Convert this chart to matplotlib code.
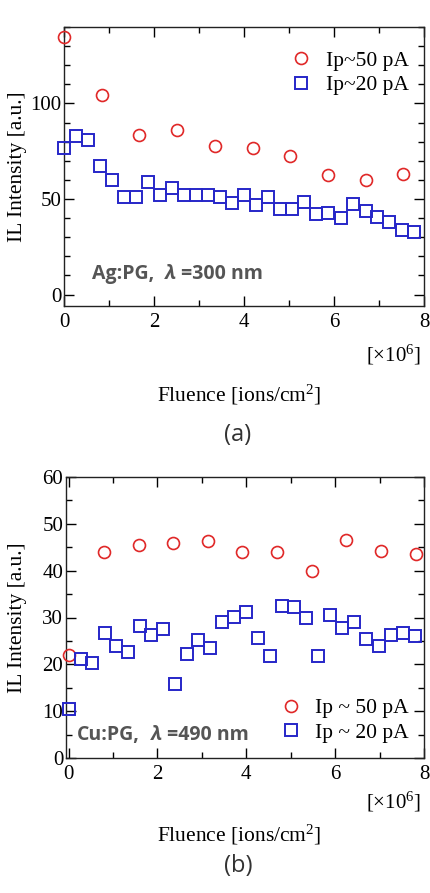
import matplotlib
matplotlib.use("Agg")
import matplotlib.pyplot as plt
from matplotlib.ticker import MultipleLocator

# ---------------- data ----------------
# Panel (a): Ag:PG, lambda = 300 nm
a_x50 = [0.0, 0.84, 1.67, 2.51, 3.36, 4.19, 5.02, 5.86, 6.70, 7.53]
a_y50 = [135.0, 104.5, 83.7, 86.3, 77.9, 76.7, 72.5, 62.6, 59.8, 63.1]
a_x20 = [0.0, 0.27, 0.53, 0.80, 1.07, 1.33, 1.60, 1.86, 2.13, 2.39,
         2.67, 2.93, 3.20, 3.46, 3.73, 3.99, 4.26, 4.53, 4.80, 5.07,
         5.33, 5.60, 5.87, 6.15, 6.43, 6.70, 6.96, 7.23, 7.51, 7.78]
a_y20 = [76.9, 82.8, 81.0, 67.1, 59.8, 51.1, 51.1, 59.0, 52.3, 56.0,
         52.0, 52.0, 52.0, 50.8, 48.0, 52.0, 47.1, 50.8, 45.0, 45.0,
         48.2, 41.9, 42.8, 40.0, 47.3, 43.8, 40.7, 38.1, 33.7, 32.9]

# Panel (b): Cu:PG, lambda = 490 nm
b_x50 = [0.0, 0.80, 1.58, 2.35, 3.13, 3.91, 4.70, 5.47, 6.25, 7.03, 7.81]
b_y50 = [22.0, 43.9, 45.4, 46.0, 46.3, 43.9, 43.9, 39.9, 46.6, 44.2, 43.5]
b_x20 = [0.0, 0.28, 0.53, 0.81, 1.07, 1.33, 1.60, 1.86, 2.13, 2.39,
         2.66, 2.92, 3.19, 3.46, 3.73, 3.99, 4.27, 4.53, 4.81, 5.07,
         5.35, 5.61, 5.89, 6.15, 6.43, 6.70, 6.98, 7.25, 7.52, 7.80]
b_y20 = [10.5, 21.1, 20.2, 26.6, 24.0, 22.7, 28.1, 26.3, 27.6, 15.7,
         22.3, 25.1, 23.5, 29.0, 30.2, 31.1, 25.6, 21.7, 32.4, 32.2,
         29.9, 21.7, 30.5, 27.7, 29.0, 25.4, 24.0, 26.3, 26.6, 26.1]

a_labels = ["Ip~50 pA", "Ip~20 pA"]
b_labels = ["Ip ~ 50 pA", "Ip ~ 20 pA"]
a_xticks = [0, 2, 4, 6, 8]
a_yticks = [0, 50, 100]
b_xticks = [0, 2, 4, 6, 8]
b_yticks = [0, 10, 20, 30, 40, 50, 60]

# ---------------- style ----------------
RED = "#e02828"
BLUE = "#2626c8"
SERIF = "Liberation Serif"
SANS = ["Open Sans", "DejaVu Sans"]
W, H = 430, 893

plt.rcParams["mathtext.fontset"] = "custom"
plt.rcParams["mathtext.rm"] = "Liberation Serif"
plt.rcParams["mathtext.it"] = "Liberation Serif:italic"
plt.rcParams["mathtext.bf"] = "Liberation Serif:bold"

fig = plt.figure(figsize=(W / 100, H / 100), dpi=100)


def px_axes(left, top, right, bottom):
    return fig.add_axes([left / W, 1 - bottom / H, (right - left) / W, (bottom - top) / H])


def style_axes(ax, xticks, yticks, yminor):
    ax.set_xticks(xticks)
    ax.set_yticks(yticks)
    ax.xaxis.set_minor_locator(MultipleLocator(1))
    ax.yaxis.set_minor_locator(MultipleLocator(yminor))
    ax.tick_params(which="both", direction="in", top=True, right=True, width=1.0)
    ax.tick_params(which="major", length=7)
    ax.tick_params(which="minor", length=4)
    ax.tick_params(axis="x", pad=5)
    ax.tick_params(axis="y", pad=2)
    for lab in ax.get_xticklabels() + ax.get_yticklabels():
        lab.set_fontfamily(SERIF)
        lab.set_fontsize(15)
    for s in ax.spines.values():
        s.set_linewidth(1.0)
        s.set_color("#222222")
    ax.set_ylabel("IL Intensity [a.u.]", fontfamily=SERIF, fontsize=15.5)


def annotate(ax, x, y, head, tail):
    kw = dict(transform=ax.transAxes, fontfamily=SANS, fontweight="bold",
              fontsize=14, color="#555555", va="baseline", ha="left")
    t1 = ax.text(x, y, head, **kw)
    fig.canvas.draw()
    inv = ax.transAxes.inverted()
    bb = t1.get_window_extent()
    x2 = inv.transform((bb.x1 + 11, 0))[0]
    t2 = ax.text(x2, y, "\u03bb", fontstyle="italic", **kw)
    bb2 = t2.get_window_extent()
    x3 = inv.transform((bb2.x1 + 5, 0))[0]
    ax.text(x3, y, tail, **kw)


mk = dict(linestyle="none", markerfacecolor="none", clip_on=False, zorder=3)
leg_kw = dict(frameon=False, prop={"family": SERIF, "size": 15.5}, handletextpad=0.55,
              labelspacing=0.22, handlelength=1.2, borderaxespad=0.3)

# ---------------- panel (a) ----------------
axa = px_axes(64, 27, 424, 306)
axa.plot(a_x50, a_y50, marker="o", markersize=8.6, markeredgecolor=RED,
         markeredgewidth=1.2, label=a_labels[0], **mk)
axa.plot(a_x20, a_y20, marker="s", markersize=8.4, markeredgecolor=BLUE,
         markeredgewidth=1.4, label=a_labels[1], **mk)
axa.set_xlim(0, 8)
axa.set_ylim(-6, 140)
style_axes(axa, a_xticks, a_yticks, 10)
axa.yaxis.set_label_coords(-0.103, 0.5)
axa.legend(loc="upper right", bbox_to_anchor=(1.0, 0.97), **leg_kw)
annotate(axa, 0.078, 0.098, "Ag:PG,", "=300 nm")

fig.text(421 / W, 1 - 355 / H, r"[$\times$10$^{6}$]", fontfamily=SERIF, fontsize=15,
         ha="right", va="center")
fig.text(239 / W, 1 - 395 / H, "Fluence [ions/cm$^{2}$]", fontfamily=SERIF, fontsize=15.5,
         ha="center", va="center")
fig.text(238 / W, 1 - 435 / H, "(a)", fontfamily=SANS, fontsize=17,
         ha="center", va="center", color="#333333")

# ---------------- panel (b) ----------------
axb = px_axes(66, 477, 424, 758)
axb.plot(b_x50, b_y50, marker="o", markersize=8.6, markeredgecolor=RED,
         markeredgewidth=1.2, label=b_labels[0], **mk)
axb.plot(b_x20, b_y20, marker="s", markersize=8.4, markeredgecolor=BLUE,
         markeredgewidth=1.4, label=b_labels[1], **mk)
axb.set_xlim(-0.06, 8)
axb.set_ylim(0, 60)
style_axes(axb, b_xticks, b_yticks, 5)
axb.yaxis.set_label_coords(-0.109, 0.5)
axb.legend(loc="lower right", bbox_to_anchor=(1.0, 0.0), **leg_kw)
annotate(axb, 0.03, 0.065, "Cu:PG,", "=490 nm")

fig.text(421 / W, 1 - 802 / H, r"[$\times$10$^{6}$]", fontfamily=SERIF, fontsize=15,
         ha="right", va="center")
fig.text(239 / W, 1 - 835 / H, "Fluence [ions/cm$^{2}$]", fontfamily=SERIF, fontsize=15.5,
         ha="center", va="center")
fig.text(238 / W, 1 - 866 / H, "(b)", fontfamily=SANS, fontsize=17,
         ha="center", va="center", color="#333333")

fig.savefig("out.png", dpi=100)
